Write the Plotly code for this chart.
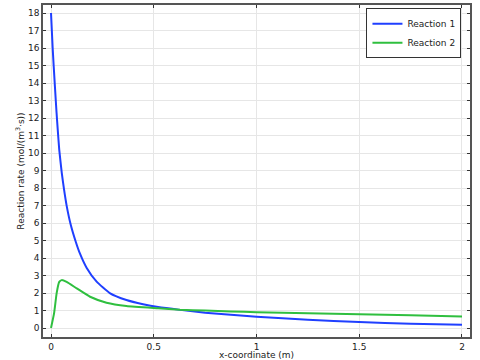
import plotly.graph_objects as go

x_r1 = [0, 0.008, 0.019, 0.027, 0.033, 0.04, 0.052, 0.063, 0.076, 0.095, 0.12, 0.141, 0.173,
        0.222, 0.286, 0.367, 0.448, 0.521, 0.628, 0.75, 0.875, 1.0, 1.25, 1.5, 1.75, 2.0]
reaction1 = [18, 16, 13.8, 12.3, 11.3, 10.2, 8.9, 7.95, 7.0, 5.95, 4.95, 4.25, 3.45,
             2.65, 2.0, 1.6, 1.36, 1.2, 1.04, 0.88, 0.76, 0.65, 0.47, 0.34, 0.25, 0.19]
x_r2 = [0, 0.015, 0.0275, 0.04, 0.052, 0.076, 0.125, 0.19, 0.27, 0.367, 0.521, 0.628,
        0.75, 0.875, 1.0, 1.25, 1.5, 1.75, 2.0]
reaction2 = [0, 0.85, 2.0, 2.64, 2.74, 2.64, 2.27, 1.79, 1.45, 1.26, 1.13, 1.05,
             1.0, 0.95, 0.91, 0.85, 0.79, 0.73, 0.66]
x_ticks = [0, 0.5, 1, 1.5, 2]
x_ticklabels = ["0", "0.5", "1", "1.5", "2"]
y_ticks = list(range(0, 19))

fig = go.Figure()
fig.add_trace(go.Scatter(x=x_r1, y=reaction1, mode="lines", name="Reaction 1",
                         line=dict(color="#1f3fff", width=2, shape="spline", smoothing=0.5)))
fig.add_trace(go.Scatter(x=x_r2, y=reaction2, mode="lines", name="Reaction 2",
                         line=dict(color="#2fbf3f", width=2, shape="spline", smoothing=0.5)))

axis_common = dict(showline=True, linecolor="#555555", linewidth=1.5, mirror="allticks",
                   ticks="inside", ticklen=3, tickcolor="#333333", automargin=False,
                   showgrid=True, gridcolor="#e6e6e6", gridwidth=1, zeroline=False,
                   tickfont=dict(family="DejaVu Sans", size=9, color="#222222"))

fig.update_layout(
    width=480, height=360,
    margin=dict(l=43, r=10, t=5, b=23),
    plot_bgcolor="white", paper_bgcolor="white",
    xaxis=dict(range=[-0.039, 2.039], tickvals=x_ticks, ticktext=x_ticklabels,
               title=dict(text="x-coordinate (m)", standoff=0,
                          font=dict(family="DejaVu Sans", size=9, color="#222222")),
               **axis_common),
    yaxis=dict(range=[-0.51, 18.46], tickvals=y_ticks,
               title=dict(text="Reaction rate (mol/(m<sup>3</sup>·s))", standoff=2,
                          font=dict(family="DejaVu Sans", size=9, color="#222222")),
               **axis_common),
    legend=dict(x=0.98, y=0.99, xanchor="right", yanchor="top",
                bgcolor="white", bordercolor="#333333", borderwidth=1,
                font=dict(family="DejaVu Sans", size=9, color="#222222"),
                tracegroupgap=0, itemwidth=30),
    showlegend=True,
)

fig.write_html("out.html", config={"displayModeBar": False},
               post_script="document.body.style.margin='0';document.body.style.padding='0';")
